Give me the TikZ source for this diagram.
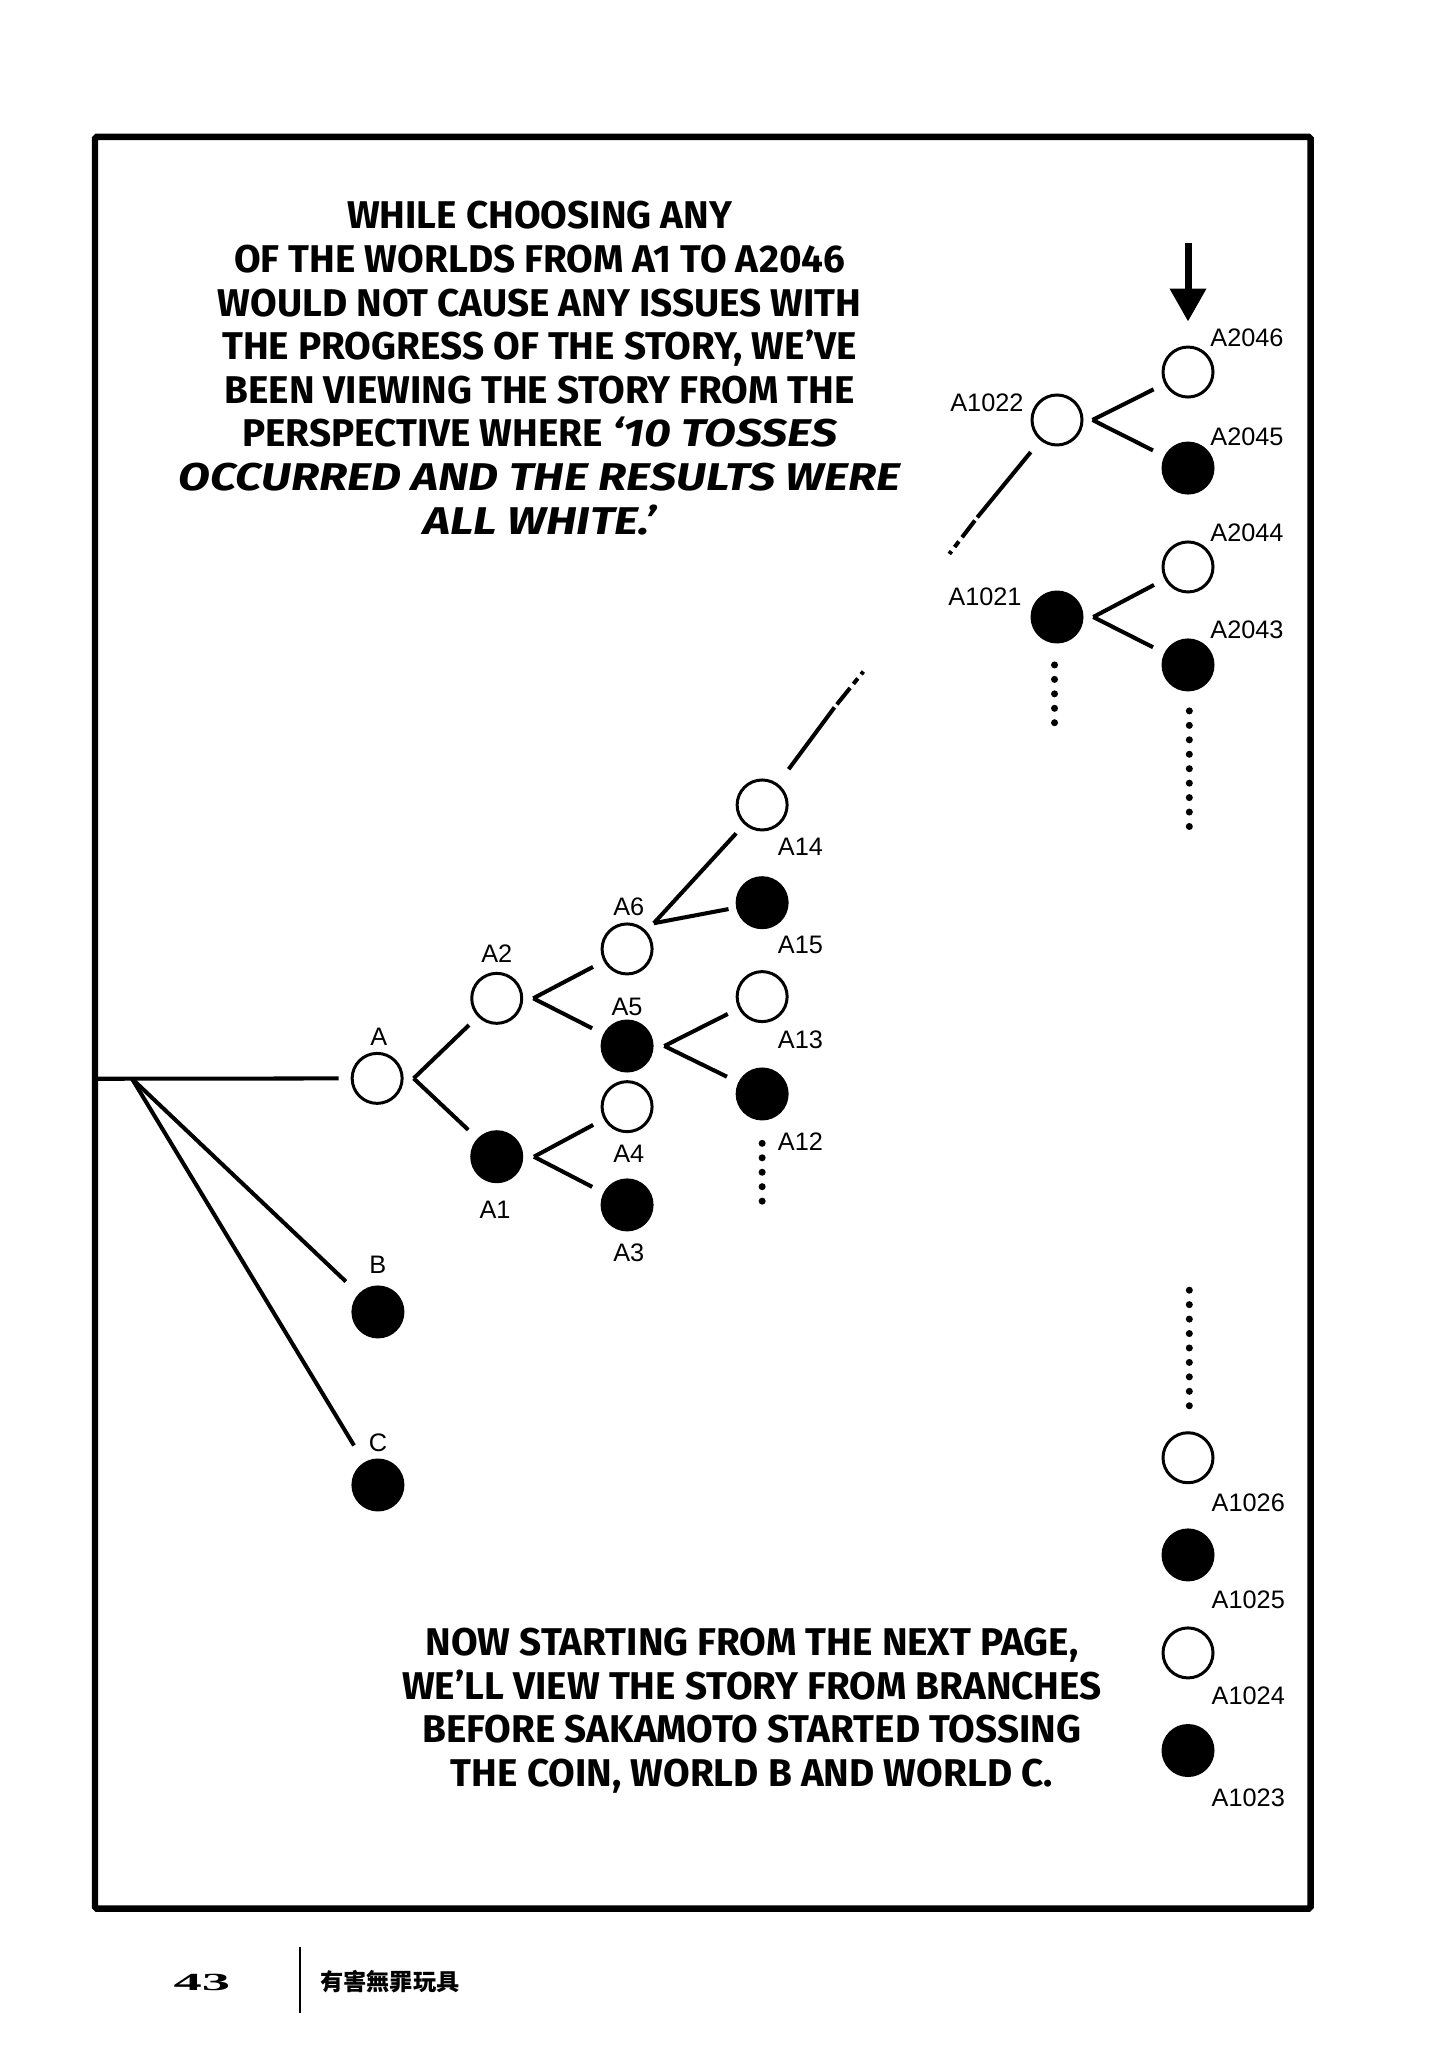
\documentclass[tikz,border=0pt]{standalone}
\usepackage{fontspec}
\usepackage{tikz}
\usetikzlibrary{arrows.meta}
\newfontfamily\comicfont{Fira Sans}
\newfontfamily\comicslant{Fira Sans}[FakeStretch=1.2]
\newfontfamily\labelfont{Liberation Sans}
\newfontfamily\pagefont{Liberation Serif}
\newfontfamily\cjkfont{Noto Sans CJK TC}

\begin{document}
\begin{tikzpicture}[x=0.131mm, y=-0.131mm,
			wnode/.style={circle, draw, line width=0.85pt, minimum size=0.5cm, inner sep=0pt},
			bnode/.style={circle, fill=black, minimum size=0.53cm, inner sep=0pt},
			lbl/.style={font=\labelfont\fontsize{7.2}{8}\selectfont, inner sep=0pt},
			branch/.style={line width=1.15pt, shorten >=0.12cm},
			fade/.style={line width=1.15pt, dash pattern=on 0pt off 1.1pt on 6pt off 1.5pt on 2pt off 1.5pt on 1pt off 30pt},
			dotrow/.style={line width=2pt, line cap=round, dash pattern=on 0pt off 4.11pt},
			caption/.style={align=center, inner sep=0pt, font=\comicfont\bfseries\fontsize{11}{12.4}\selectfont}
		]

		\useasboundingbox (0,0) rectangle (1100,1563.4);
		\draw[line width=1.8pt, rounded corners=0.5pt] (72.5,104.5) rectangle (1000.5,1457);

		% text
		\node[caption] (topnote) at (412,281) {WHILE CHOOSING ANY\\ OF THE WORLDS FROM A1 TO A2046\\ WOULD NOT CAUSE ANY ISSUES WITH\\ THE PROGRESS OF THE STORY, WE’VE\\ BEEN VIEWING THE STORY FROM THE\\ PERSPECTIVE WHERE {\comicslant\bfseries\itshape ‘10 TOSSES}\\ {\comicslant\bfseries\itshape OCCURRED AND THE RESULTS WERE}\\ {\comicslant\bfseries\itshape ALL WHITE.’}};
		\node[caption] (botnote) at (574,1306) {NOW STARTING FROM THE NEXT PAGE,\\ WE’LL VIEW THE STORY FROM BRANCHES\\ BEFORE SAKAMOTO STARTED TOSSING\\ THE COIN, WORLD B AND WORLD C.};

		% root worlds
		\node[wnode] (A) at (287.9,823.2) {};
		\node[bnode] (B) at (288.5,1001.5) {};
		\node[bnode] (C) at (288.5,1133.6) {};
		\node[lbl] (lA) at (289.2,791.4) {A};
		\node[lbl] (lB) at (288.5,965.6) {B};
		\node[lbl] (lC) at (288.5,1101.5) {C};

		\coordinate (edge) at (72.5,823.5);
		\coordinate (fan) at (100.8,823.5);
		\draw[branch] (edge) -- (A);
		\draw[branch, shorten >=0.17cm] (fan) -- (B);
		\draw[branch, shorten >=0.19cm] (fan) -- (C);

		% tosses
		\node[wnode] (A2) at (379.2,762.1) {};
		\node[bnode] (A1) at (379.2,883) {};
		\node[wnode] (A6) at (478.7,724.4) {};
		\node[bnode] (A5) at (478.7,798.5) {};
		\node[wnode] (A4) at (478.7,844.8) {};
		\node[bnode] (A3) at (478.7,919.8) {};
		\node[wnode] (A14) at (581.8,614.5) {};
		\node[bnode] (A15) at (581.8,689.1) {};
		\node[wnode] (A13) at (581.8,760.8) {};
		\node[bnode] (A12) at (581.8,835.1) {};

		\node[lbl] (lA2) at (379.2,727.7) {A2};
		\node[lbl] (lA1) at (377.9,923.7) {A1};
		\node[lbl] (lA6) at (480,692.1) {A6};
		\node[lbl] (lA5) at (478.7,768.5) {A5};
		\node[lbl] (lA4) at (480,880.4) {A4};
		\node[lbl] (lA3) at (480,956.7) {A3};
		\node[lbl] (lA14) at (611,646.3) {A14};
		\node[lbl] (lA15) at (611,721.4) {A15};
		\node[lbl] (lA13) at (611,793.9) {A13};
		\node[lbl] (lA12) at (611,871.5) {A12};

		\draw[branch] ([xshift=0.1cm]A.east) -- (A2);
		\draw[branch] ([xshift=0.1cm]A.east) -- (A1);
		\draw[branch] ([xshift=0.1cm]A2.east) -- (A6);
		\draw[branch] ([xshift=0.1cm]A2.east) -- (A5);
		\draw[branch] ([xshift=0.1cm]A1.east) -- (A4);
		\draw[branch] ([xshift=0.1cm]A1.east) -- (A3);
		\draw[branch] ([shift={(0.08cm,0.07cm)}]A6.north east) -- (A14);
		\draw[branch, shorten >=0.07cm] ([shift={(0.08cm,0.07cm)}]A6.north east) -- (A15);
		\draw[branch] ([xshift=0.1cm]A5.east) -- (A13);
		\draw[branch] ([xshift=0.1cm]A5.east) -- (A12);

		\coordinate (t14) at (637,540);
		\coordinate (e14) at (662,509);
		\draw[branch, shorten >=0pt, shorten <=0.18cm] (A14) -- (t14);
		\draw[fade] (t14) -- (e14);

		\coordinate (d12a) at (581.8,872.8);
		\coordinate (d12b) at (581.8,918.5);
		\draw[dotrow] (d12a) -- (d12b);

		% last tosses
		\node[wnode] (A1022) at (806.9,320.6) {};
		\node[bnode] (A1021) at (806.9,471) {};
		\node[wnode] (A2046) at (906.9,284) {};
		\node[bnode] (A2045) at (906.9,357.3) {};
		\node[wnode] (A2044) at (906.9,432.8) {};
		\node[bnode] (A2043) at (906.9,507.6) {};

		\node[lbl] (lA1022) at (753.4,307.6) {A1022};
		\node[lbl] (lA1021) at (751.9,455.7) {A1021};
		\node[lbl] (lA2046) at (951.9,258) {A2046};
		\node[lbl] (lA2045) at (951.9,333.6) {A2045};
		\node[lbl] (lA2044) at (951.9,406.9) {A2044};
		\node[lbl] (lA2043) at (951.9,481) {A2043};

		\draw[branch] ([xshift=0.09cm]A1022.east) -- (A2046);
		\draw[branch] ([xshift=0.09cm]A1022.east) -- (A2045);
		\draw[branch] ([xshift=0.09cm]A1021.east) -- (A2044);
		\draw[branch] ([xshift=0.09cm]A1021.east) -- (A2043);

		\coordinate (t1022) at (746,395);
		\coordinate (e1022) at (720,429);
		\draw[branch, shorten >=0pt, shorten <=0.15cm] (A1022) -- (t1022);
		\draw[fade] (t1022) -- (e1022);

		\coordinate (arrtop) at (906.9,185.5);
		\draw[-{Triangle[width=0.35cm,length=0.33cm]}, line width=2pt, shorten >=0.24cm] (arrtop) -- (A2046);

		\coordinate (d1021a) at (805,507.6);
		\coordinate (d1021b) at (805,553.5);
		\draw[dotrow] (d1021a) -- (d1021b);
		\coordinate (d2043a) at (907.9,542.7);
		\coordinate (d2043b) at (907.9,631.5);
		\draw[dotrow] (d2043a) -- (d2043b);

		% bottom column
		\coordinate (dlowa) at (907.9,984.9);
		\coordinate (dlowb) at (907.9,1075);
		\draw[dotrow] (dlowa) -- (dlowb);

		\node[wnode] (A1026) at (906.9,1112.8) {};
		\node[bnode] (A1025) at (906.9,1187) {};
		\node[wnode] (A1024) at (906.9,1261.8) {};
		\node[bnode] (A1023) at (906.9,1336.3) {};
		\node[lbl] (lA1026) at (952.9,1147) {A1026};
		\node[lbl] (lA1025) at (952.9,1221.5) {A1025};
		\node[lbl] (lA1024) at (952.9,1294.5) {A1024};
		\node[lbl] (lA1023) at (952.9,1372) {A1023};

		% footer
		\node[font=\pagefont\bfseries\fontsize{7}{8}\selectfont, inner sep=0pt] (pagenum) at (154.2,1513) {\scalebox{2.3}[1]{43}};
		\coordinate (sepT) at (229,1486);
		\coordinate (sepB) at (229,1536.6);
		\draw[line width=0.6pt] (sepT) -- (sepB);
		\node[font=\cjkfont\bfseries\fontsize{6.6}{7}\selectfont, inner sep=0pt] (booktitle) at (297.7,1513) {有害無罪玩具};

	\end{tikzpicture}
\end{document}
